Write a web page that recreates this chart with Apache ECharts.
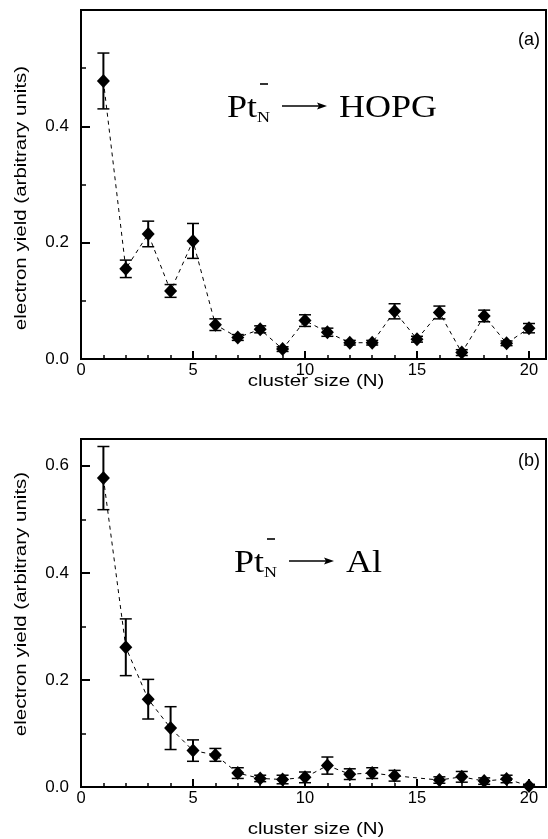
<!DOCTYPE html>
<html>
<head>
<meta charset="utf-8">
<script src="https://cdn.jsdelivr.net/npm/echarts@6/dist/echarts.min.js"></script>
<style>html,body{margin:0;padding:0;background:#fff;}#c{width:548px;height:839px;}</style>
</head>
<body>
<div id="c"></div>
<script>
// cluster sizes
var clusterN = [1,2,3,4,5,6,7,8,9,10,11,12,13,14,15,16,17,18,19,20];
// (a) Pt_N- -> HOPG
var yieldHOPG = [0.478,0.155,0.215,0.117,0.203,0.059,0.037,0.051,0.017,0.066,0.046,0.028,0.028,0.082,0.034,0.080,0.011,0.074,0.027,0.053];
var errHOPG   = [0.048,0.015,0.022,0.011,0.030,0.010,0.005,0.006,0.004,0.010,0.007,0.004,0.004,0.013,0.005,0.011,0.005,0.010,0.004,0.008];
// (b) Pt_N- -> Al
var yieldAl = [0.577,0.261,0.164,0.110,0.068,0.060,0.026,0.016,0.014,0.018,0.040,0.024,0.026,0.021,null,0.013,0.019,0.011,0.015,0.002];
var errAl   = [0.059,0.053,0.037,0.040,0.020,0.012,0.010,0.006,0.008,0.010,0.016,0.010,0.010,0.010,null,0.006,0.010,0.006,0.007,0.003];
// tick settings
var xTickStep = 5;
var yTickStep = 0.2;

var chart = echarts.init(document.getElementById('c'));
var SANS = '"Liberation Sans", Arial, sans-serif';
var SERIF = '"Liberation Serif", "Times New Roman", serif';

function pts(ys){ return clusterN.map(function(n,i){ return [n, ys[i]]; }); }
function errs(ys, es){
  var out = [];
  clusterN.forEach(function(n,i){ if (ys[i] != null) out.push([n, ys[i], es[i]]); });
  return out;
}
function errRender(params, api){
  var x = api.value(0), y = api.value(1), e = api.value(2);
  var top = api.coord([x, y + e]);
  var bot = api.coord([x, Math.max(0, y - e)]);
  var w = 6;
  return {
    type: 'group',
    children: [
      {type:'line', shape:{x1:top[0], y1:top[1], x2:bot[0], y2:bot[1]}, style:{stroke:'#000', lineWidth:2}},
      {type:'line', shape:{x1:top[0]-w, y1:top[1], x2:top[0]+w, y2:top[1]}, style:{stroke:'#000', lineWidth:1.5}},
      {type:'line', shape:{x1:bot[0]-w, y1:bot[1], x2:bot[0]+w, y2:bot[1]}, style:{stroke:'#000', lineWidth:1.5}}
    ]
  };
}
function xAxisCfg(idx){
  return {
    type:'value', gridIndex: idx, min:0, max:20.76, interval:xTickStep,
    axisLine:{show:true, onZero:false, lineStyle:{color:'#000', width:2}},
    axisTick:{show:true, inside:true, length:8, lineStyle:{color:'#000', width:2}},
    minorTick:{show:true, splitNumber:5, length:4, lineStyle:{color:'#000', width:1.5}},
    splitLine:{show:false},
    axisLabel:{color:'#000', fontFamily:SANS, fontSize:16.5, margin:3, showMaxLabel:false,
      formatter:function(v){ return (Math.abs(v - Math.round(v)) < 1e-6 && Math.round(v) % 5 === 0) ? String(Math.round(v)) : ''; }}
  };
}
function yAxisCfg(idx, max){
  return {
    type:'value', gridIndex: idx, min:0, max:max, interval:yTickStep,
    axisLine:{show:true, lineStyle:{color:'#000', width:2}},
    axisTick:{show:true, inside:true, length:9, lineStyle:{color:'#000', width:2}},
    minorTick:{show:true, splitNumber:2, length:5, lineStyle:{color:'#000', width:1.5}},
    splitLine:{show:false},
    axisLabel:{color:'#000', fontFamily:SANS, fontSize:17, margin:12, showMaxLabel:false,
      formatter:function(v){ return v.toFixed(1); }}
  };
}
function lineSeries(idx, ys){
  return {
    type:'line', xAxisIndex:idx, yAxisIndex:idx, data:pts(ys), connectNulls:true,
    symbol:'diamond', symbolSize:[13,14], showSymbol:true,
    itemStyle:{color:'#000'}, lineStyle:{color:'#000', width:1, type:[4,4]},
    z:3, silent:true, animation:false
  };
}
function errSeries(idx, ys, es){
  return {type:'custom', xAxisIndex:idx, yAxisIndex:idx, data:errs(ys, es), renderItem:errRender, z:2, silent:true, animation:false};
}

function serifText(txt, x, base, fs){
  return {type:'text', x:x, y:base, scaleY:0.85,
    style:{text:txt, x:0, y:-0.8*fs, font:fs + 'px ' + SERIF, fill:'#000', verticalAlign:'top'}};
}
function sansName(txt, x, y, rot){
  return {type:'text', x:x, y:y, rotation:rot, scaleY:0.82,
    style:{text:txt, x:0, y:0, font:'20.5px ' + SANS, fill:'#000', align:'center', verticalAlign:'middle'}};
}
function formulaGraphic(px, base, target){
  return [
    serifText('Pt', px, base, 36),
    serifText('N', px+30, base+5, 18),
    {type:'line', shape:{x1:px+33, y1:base-34, x2:px+41, y2:base-34}, style:{stroke:'#000', lineWidth:1.6}},
    {type:'line', shape:{x1:px+55, y1:base-12, x2:px+93, y2:base-12}, style:{stroke:'#000', lineWidth:1.3}},
    {type:'polygon', shape:{points:[[px+100, base-12],[px+90, base-15.5],[px+92, base-12],[px+90, base-8.5]]}, style:{fill:'#000'}},
    serifText(target, px+112, base, 36)
  ];
}

var graphics = [].concat(
  formulaGraphic(227, 118, 'HOPG'),
  formulaGraphic(234, 573, 'Al'),
  [
    {type:'text', right:8, top:31, style:{text:'(a)', font:'18px ' + SANS, fill:'#000'}},
    {type:'text', right:8, top:452, style:{text:'(b)', font:'18px ' + SANS, fill:'#000'}},
    sansName('electron yield (arbitrary units)', 21, 198, Math.PI/2),
    sansName('electron yield (arbitrary units)', 21, 604, Math.PI/2),
    sansName('cluster size (N)', 316, 381, 0),
    sansName('cluster size (N)', 316, 829, 0)
  ]
);

chart.setOption({
  animation:false,
  backgroundColor:'#fff',
  grid:[
    {left:81, top:10, width:465, height:349, show:true, borderColor:'#000', borderWidth:2, backgroundColor:'transparent'},
    {left:81, top:439, width:465, height:348, show:true, borderColor:'#000', borderWidth:2, backgroundColor:'transparent'}
  ],
  xAxis:[xAxisCfg(0), xAxisCfg(1)],
  yAxis:[yAxisCfg(0, 0.6), yAxisCfg(1, 0.65)],
  series:[
    errSeries(0, yieldHOPG, errHOPG), lineSeries(0, yieldHOPG),
    errSeries(1, yieldAl, errAl), lineSeries(1, yieldAl)
  ],
  graphic: graphics
});
</script>
</body>
</html>
